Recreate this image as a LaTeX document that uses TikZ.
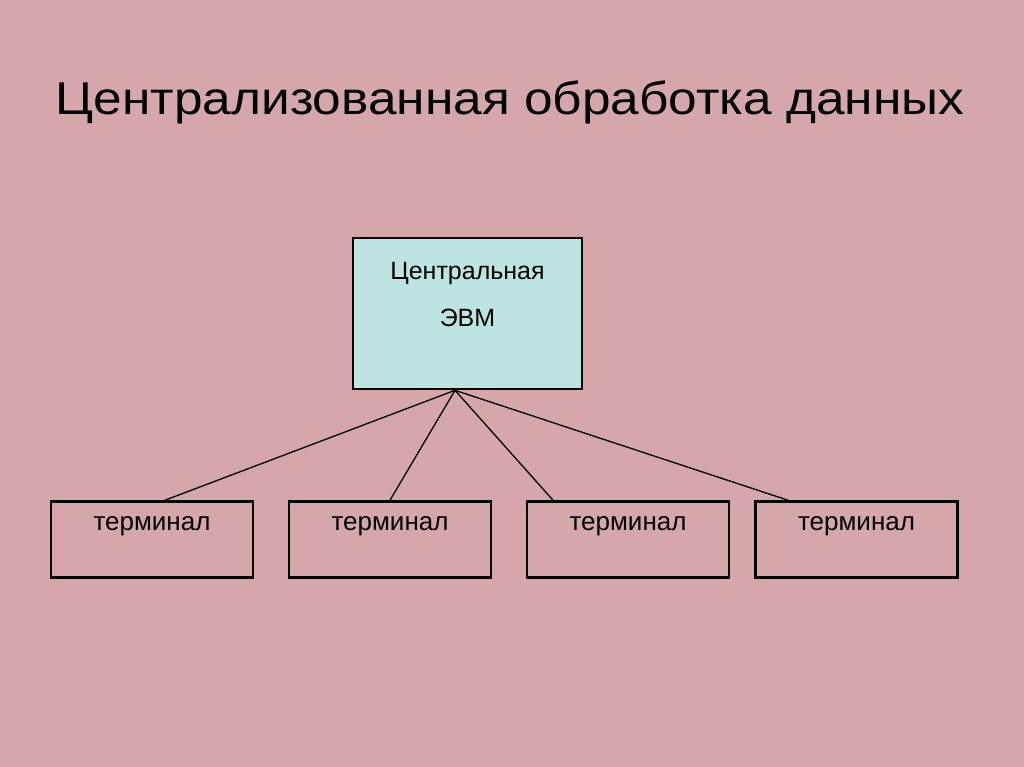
\documentclass[tikz,border=0pt]{standalone}
\usepackage{fontspec}
\setmainfont{Liberation Sans}
\newfontfamily\titlefont[FakeStretch=1.117]{Liberation Sans}
\usepackage{tikz}
\usetikzlibrary{positioning}

\definecolor{bgpink}{RGB}{213,167,171}
\definecolor{evmcyan}{RGB}{190,228,226}

\begin{document}
\begin{tikzpicture}[
    x=1pt, y=-1pt,
    node distance=33.4pt,
    evmbox/.style={
        rectangle,
        draw=black,
        line width=2.6pt,
        fill=evmcyan,
        align=center,
        minimum width=229pt,
        minimum height=151pt,
        font=\fontsize{25}{47}\selectfont,
        text depth=38pt
    },
    termbox/.style={
        rectangle,
        draw=black,
        line width=2.6pt,
        minimum width=202pt,
        minimum height=76pt,
        font=\fontsize{26}{30}\selectfont,
        text height=14pt,
        text depth=33pt
    },
    link/.style={
        line width=1.3pt
    }
]

\fill[bgpink] (0,0) rectangle (1024,767);
\useasboundingbox (0,0) rectangle (1024,767);

\node[anchor=base, font=\titlefont\fontsize{46}{50}\selectfont] (title) at (510,115) {Централизованная обработка данных};

\node[evmbox] (evm) at (467.5,313.5) {Центральная\\ЭВМ};

\node[termbox] (t1) at (152,539.5) {терминал};
\node[termbox, right=of t1] (t2) {терминал};
\node[termbox, right=of t2] (t3) {терминал};
\node[termbox, right=23.9pt of t3] (t4) {терминал};

\coordinate (hub) at ([xshift=-12.5pt]evm.south);

\draw[link] (hub) -- ([xshift=13pt]t1.north);
\draw[link] (hub) -- (t2.north);
\draw[link] (hub) -- ([xshift=-75pt]t3.north);
\draw[link] (hub) -- ([xshift=-68.5pt]t4.north);

\end{tikzpicture}
\end{document}
